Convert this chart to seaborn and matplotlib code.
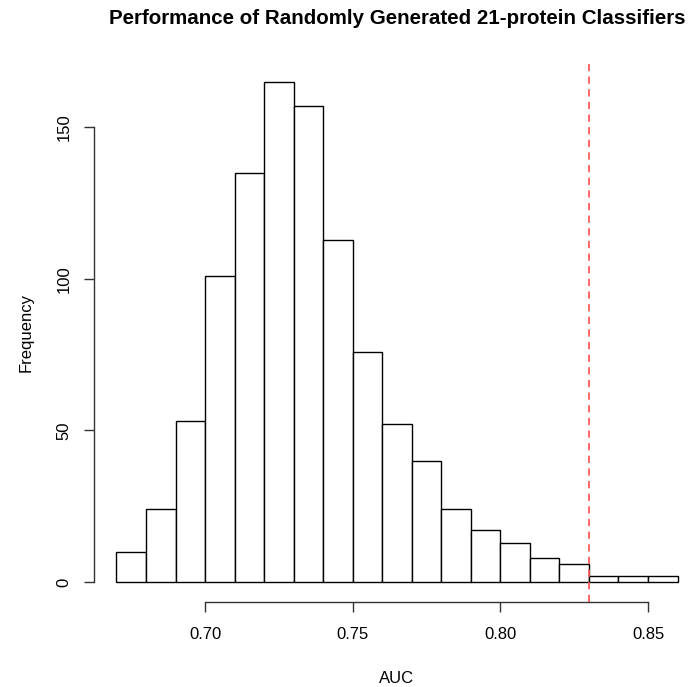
import numpy as np
import pandas as pd
import matplotlib
matplotlib.use("Agg")
import matplotlib.pyplot as plt
import seaborn as sns

# Data
bin_edges = [0.67, 0.68, 0.69, 0.70, 0.71, 0.72, 0.73, 0.74, 0.75, 0.76,
             0.77, 0.78, 0.79, 0.80, 0.81, 0.82, 0.83, 0.84, 0.85, 0.86]
counts = [10, 24, 53, 101, 135, 165, 157, 113, 76, 52,
          40, 24, 17, 13, 8, 6, 2, 2, 2]
threshold_auc = 0.83
x_ticks = [0.70, 0.75, 0.80, 0.85]
y_ticks = [0, 50, 100, 150]
title = "Performance of Randomly Generated 21-protein Classifiers"

sns.set_theme(style="white")
plt.rcParams['font.family'] = ['Liberation Sans', 'DejaVu Sans']
plt.rcParams['text.color'] = 'black'
plt.rcParams['axes.labelcolor'] = 'black'
plt.rcParams['xtick.labelcolor'] = 'black'
plt.rcParams['ytick.labelcolor'] = 'black'

edges = np.array(bin_edges)
centers = (edges[:-1] + edges[1:]) / 2
df = pd.DataFrame({"AUC": centers, "count": counts})

W, H = 694, 687
fig = plt.figure(figsize=(W / 100, H / 100), dpi=100)
left_px, right_px, top_px, bot_px = 94, 700, 62, 602
ax = fig.add_axes([left_px / W, 1 - bot_px / H,
                   (right_px - left_px) / W, (bot_px - top_px) / H])

sns.histplot(data=df, x="AUC", weights="count", bins=list(bin_edges), ax=ax,
             color="white", edgecolor="black", linewidth=1.0, alpha=1.0)

lo, hi = edges[0], edges[-1]
pad = 0.04 * (hi - lo)
ax.set_xlim(lo - pad, hi + pad)
ymax = max(counts)
ax.set_ylim(-0.04 * ymax, ymax * 1.04)

ax.axvline(threshold_auc, color="#ff5a5a", linestyle=(0, (4, 3)), linewidth=1.3)

for s in ["top", "right"]:
    ax.spines[s].set_visible(False)
ax.spines["left"].set_bounds(y_ticks[0], y_ticks[-1])
ax.spines["bottom"].set_bounds(x_ticks[0], x_ticks[-1])
for s in ["left", "bottom"]:
    ax.spines[s].set_color("#333333")
    ax.spines[s].set_linewidth(1.0)

ax.set_xticks(x_ticks)
ax.set_xticklabels([f"{v:.2f}" for v in x_ticks])
ax.set_yticks(y_ticks)
ax.set_yticklabels([str(v) for v in y_ticks], rotation=90, va="center")
ax.tick_params(axis="both", which="both", direction="out", length=7, width=1.0,
               color="#333333", labelsize=12, labelcolor="black",
               bottom=True, left=True)
ax.tick_params(axis="x", pad=11)
ax.tick_params(axis="y", pad=9)

ax.set_xlabel("AUC", fontsize=12, labelpad=21, color="black")
ax.set_ylabel("Frequency", fontsize=12, labelpad=17, color="black")
ax.set_title(title, fontsize=14.8, fontweight="bold", pad=27, color="black")
ax.grid(False)

fig.savefig("out.png", dpi=100, facecolor="white")
